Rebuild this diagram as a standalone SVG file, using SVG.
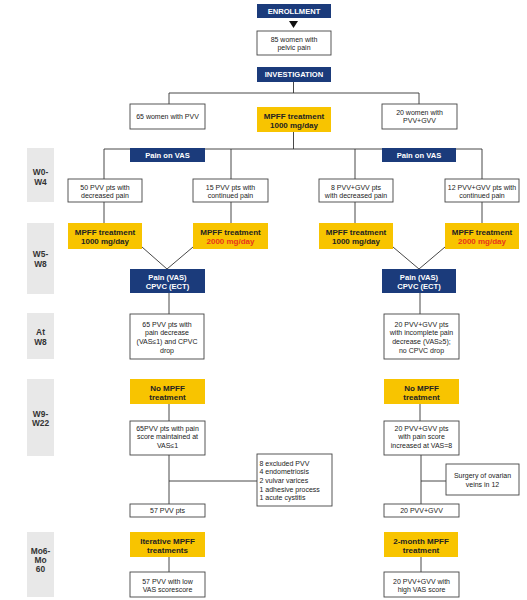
<svg xmlns="http://www.w3.org/2000/svg" width="527" height="600" viewBox="0 0 527 600">
<style>
.bg{fill:#ffffff}
.nv{fill:#1b3b7b}
.yl{fill:#f8c400}
.wb{fill:#ffffff;stroke:#444;stroke-width:0.9}
.gl{fill:#e8e8e8}
.ln{stroke:#333;stroke-width:0.9;fill:none}
text{font-family:"Liberation Sans",Arial,sans-serif;text-anchor:middle}
.t{font-size:7px;fill:#222}
.tl{font-size:7px;fill:#222;text-anchor:start}
.hw{font-size:7.6px;font-weight:bold;fill:#fff}
.hy{font-size:8px;font-weight:bold;fill:#222}
.red{fill:#e8341c}
.lab{font-size:8.4px;font-weight:bold;fill:#333}
</style>
<rect class="bg" x="0" y="0" width="527" height="600"/>

<g id="connectors">
<polygon points="289,21 298,21 293.5,28" fill="#111"/>
<path class="ln" d="M293.5,82 V93 M169,93 H419 M169,93 V104 M419,93 V104"/>
<path class="ln" d="M293.5,132 V149 M104,149 H482 M104,149 V179 M231,149 V179 M355,149 V179 M482,149 V179"/>
<path class="ln" d="M104,202 V223 M231,202 V223 M355,202 V223 M482,202 V223"/>
<path class="ln" d="M142,247 L167,269 M193,247 L167,269 M393,247 L419,269 M445,247 L419,269"/>
<path class="ln" d="M169,293 V314 M420,293 V314"/>
<path class="ln" d="M169,404 V421 M420,404 V421"/>
<path class="ln" d="M169,455 V504 M169,481 H257 M421,455 V504 M421,481 H446"/>
<path class="ln" d="M169,557 V572 M421,557 V572"/>
</g>

<g id="labels">
<g id="lab-w0"><rect class="gl" x="27" y="148" width="27" height="54"/><text class="lab" x="40.5" y="175">W0-</text><text class="lab" x="40.5" y="185">W4</text></g>
<g id="lab-w5"><rect class="gl" x="27" y="223" width="27" height="71"/><text class="lab" x="40.5" y="257">W5-</text><text class="lab" x="40.5" y="267">W8</text></g>
<g id="lab-w8"><rect class="gl" x="27" y="313" width="27" height="46"/><text class="lab" x="40.5" y="335">At</text><text class="lab" x="40.5" y="345">W8</text></g>
<g id="lab-w9"><rect class="gl" x="27" y="379" width="27" height="77"/><text class="lab" x="40.5" y="417">W9-</text><text class="lab" x="40.5" y="426">W22</text></g>
<g id="lab-mo"><rect class="gl" x="27" y="532" width="27" height="65"/><text class="lab" x="40.5" y="554">Mo6-</text><text class="lab" x="40.5" y="563">Mo</text><text class="lab" x="40.5" y="572">60</text></g>
</g>

<g id="enrollment"><rect class="nv" x="257" y="4" width="74" height="14"/><text class="hw" x="294" y="13.8">ENROLLMENT</text></g>
<g id="n85"><rect class="wb" x="257" y="31" width="74" height="24"/><text class="t" x="294" y="41.5">85 women with</text><text class="t" x="294" y="50.2">pelvic pain</text></g>
<g id="investigation"><rect class="nv" x="257" y="67" width="74" height="15"/><text class="hw" x="294" y="77.4">INVESTIGATION</text></g>

<g id="n65w"><rect class="wb" x="130" y="104" width="75" height="25"/><text class="t" x="167.5" y="119.2">65 women with PVV</text></g>
<g id="mpff0"><rect class="yl" x="257" y="107" width="74" height="25"/><text class="hy" x="294" y="118.7">MPFF treatment</text><text class="hy" x="294" y="127.7">1000 mg/day</text></g>
<g id="n20w"><rect class="wb" x="382" y="104" width="75" height="25"/><text class="t" x="419.5" y="114.7">20 women with</text><text class="t" x="419.5" y="123.2">PVV+GVV</text></g>

<g id="painvas-l"><rect class="nv" x="130" y="148" width="75" height="14"/><text class="hw" x="167.5" y="157.7">Pain on VAS</text></g>
<g id="painvas-r"><rect class="nv" x="382" y="148" width="74" height="14"/><text class="hw" x="419" y="157.7">Pain on VAS</text></g>

<g id="n50"><rect class="wb" x="68" y="179" width="74" height="23"/><text class="t" x="105" y="189.5">50 PVV pts with</text><text class="t" x="105" y="197.8">decreased pain</text></g>
<g id="n15"><rect class="wb" x="193" y="179" width="75" height="23"/><text class="t" x="230.5" y="189.5">15 PVV pts with</text><text class="t" x="230.5" y="197.8">continued pain</text></g>
<g id="n8"><rect class="wb" x="319" y="179" width="74" height="23"/><text class="t" x="356" y="189.5">8 PVV+GVV pts</text><text class="t" x="356" y="197.8">with decreased pain</text></g>
<g id="n12"><rect class="wb" x="445" y="179" width="74" height="23"/><text class="t" x="482" y="189.5">12 PVV+GVV pts with</text><text class="t" x="482" y="197.8">continued pain</text></g>

<g id="y1"><rect class="yl" x="68" y="223" width="74" height="26"/><text class="hy" x="105" y="234.7">MPFF treatment</text><text class="hy" x="105" y="243.7">1000 mg/day</text></g>
<g id="y2"><rect class="yl" x="193" y="223" width="75" height="26"/><text class="hy" x="230.5" y="234.7">MPFF treatment</text><text class="hy red" x="230.5" y="243.7">2000 mg/day</text></g>
<g id="y3"><rect class="yl" x="319" y="223" width="74" height="26"/><text class="hy" x="356" y="234.7">MPFF treatment</text><text class="hy" x="356" y="243.7">1000 mg/day</text></g>
<g id="y4"><rect class="yl" x="445" y="223" width="74" height="26"/><text class="hy" x="482" y="234.7">MPFF treatment</text><text class="hy red" x="482" y="243.7">2000 mg/day</text></g>

<g id="cpvc-l"><rect class="nv" x="130" y="269" width="75" height="24"/><text class="hw" x="167.5" y="279.7">Pain (VAS)</text><text class="hw" x="167.5" y="288.7">CPVC (ECT)</text></g>
<g id="cpvc-r"><rect class="nv" x="382" y="269" width="74" height="24"/><text class="hw" x="419" y="279.7">Pain (VAS)</text><text class="hw" x="419" y="288.7">CPVC (ECT)</text></g>

<g id="w8-l"><rect class="wb" x="130" y="314" width="74" height="45"/><text class="t" x="167" y="326.5">65 PVV pts with</text><text class="t" x="167" y="335.2">pain decrease</text><text class="t" x="167" y="344">(VAS≤1) and CPVC</text><text class="t" x="167" y="352.7">drop</text></g>
<g id="w8-r"><rect class="wb" x="384" y="314" width="75" height="45"/><text class="t" x="421.5" y="326.5">20 PVV+GVV pts</text><text class="t" x="421.5" y="335.2">with incomplete pain</text><text class="t" x="421.5" y="344">decrease (VAS≥5);</text><text class="t" x="421.5" y="352.7">no CPVC drop</text></g>

<g id="nompff-l"><rect class="yl" x="130" y="379" width="75" height="25"/><text class="hy" x="167.5" y="390.7">No MPFF</text><text class="hy" x="167.5" y="399.7">treatment</text></g>
<g id="nompff-r"><rect class="yl" x="384" y="379" width="75" height="25"/><text class="hy" x="421.5" y="390.7">No MPFF</text><text class="hy" x="421.5" y="399.7">treatment</text></g>

<g id="w22-l"><rect class="wb" x="130" y="421" width="75" height="34"/><text class="t" x="167.5" y="430.5">65PVV pts with pain</text><text class="t" x="167.5" y="439.2">score maintained at</text><text class="t" x="167.5" y="448">VAS≤1</text></g>
<g id="w22-r"><rect class="wb" x="384" y="421" width="75" height="34"/><text class="t" x="421.5" y="430.5">20 PVV+GVV pts</text><text class="t" x="421.5" y="439.2">with pain score</text><text class="t" x="421.5" y="448">increased at VAS=8</text></g>

<g id="excluded"><rect class="wb" x="257" y="454" width="75" height="52"/><text class="tl" x="259.5" y="465.5">8 excluded PVV</text><text class="tl" x="259.5" y="474.2">4 endometriosis</text><text class="tl" x="259.5" y="483">2 vulvar varices</text><text class="tl" x="259.5" y="491.7">1 adhesive process</text><text class="tl" x="259.5" y="500.4">1 acute cystitis</text></g>
<g id="surgery"><rect class="wb" x="446" y="464" width="73" height="31"/><text class="t" x="482.5" y="478.2">Surgery of ovarian</text><text class="t" x="482.5" y="486.8">veins in 12</text></g>

<g id="n57"><rect class="wb" x="130" y="504" width="75" height="13"/><text class="t" x="167.5" y="513.2">57 PVV pts</text></g>
<g id="n20b"><rect class="wb" x="384" y="504" width="75" height="13"/><text class="t" x="421.5" y="513.2">20 PVV+GVV</text></g>

<g id="iter"><rect class="yl" x="130" y="532" width="75" height="25"/><text class="hy" x="167.5" y="543.7">Iterative MPFF</text><text class="hy" x="167.5" y="552.7">treatments</text></g>
<g id="twomonth"><rect class="yl" x="384" y="532" width="74" height="25"/><text class="hy" x="421" y="543.7">2-month MPFF</text><text class="hy" x="421" y="552.7">treatment</text></g>

<g id="final-l"><rect class="wb" x="130" y="572" width="75" height="25"/><text class="t" x="167.5" y="583.7">57 PVV with low</text><text class="t" x="167.5" y="592.4">VAS scorescore</text></g>
<g id="final-r"><rect class="wb" x="384" y="572" width="75" height="25"/><text class="t" x="421.5" y="583.7">20 PVV+GVV with</text><text class="t" x="421.5" y="592.4">high VAS score</text></g>
</svg>
